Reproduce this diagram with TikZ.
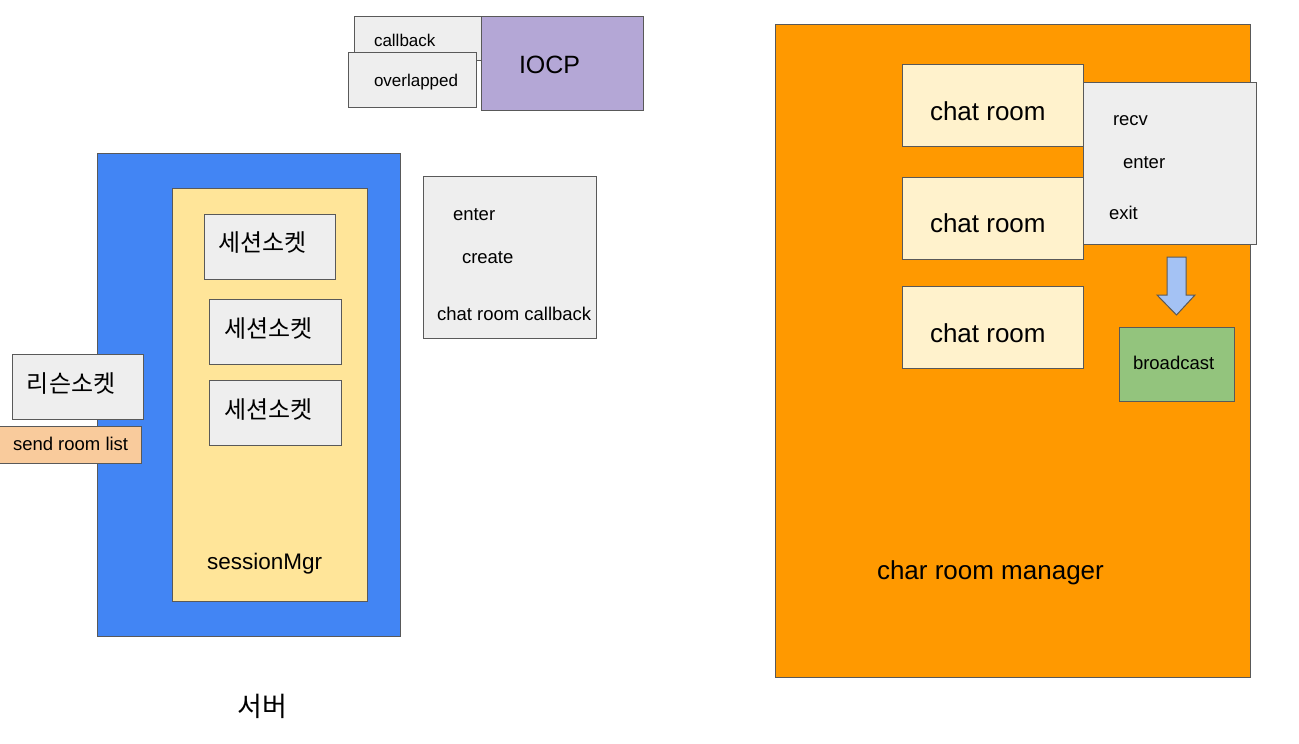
\documentclass[tikz,border=0pt]{standalone}
\usepackage{fontspec}
\setmainfont{Liberation Sans}
\newfontfamily\krfont{Noto Sans CJK KR}
\usetikzlibrary{shapes.arrows}
\definecolor{bordc}{HTML}{595959}
\definecolor{greyf}{HTML}{EEEEEE}
\definecolor{purplef}{HTML}{B4A7D6}
\definecolor{bluef}{HTML}{4285F4}
\definecolor{yellowf}{HTML}{FFE599}
\definecolor{peachf}{HTML}{F9CB9C}
\definecolor{orangef}{HTML}{FF9900}
\definecolor{creamf}{HTML}{FFF2CC}
\definecolor{lbluef}{HTML}{A4C2F4}
\definecolor{greenf}{HTML}{93C47D}
\newcommand{\fsz}[1]{\fontsize{#1}{#1}\selectfont}
\begin{document}
\begin{tikzpicture}[x=1pt,y={(0,-1pt)},
  boxst/.style={draw=bordc,line width=1pt,inner sep=0pt,outer sep=0pt},
  lbl/.style={inner sep=0pt,outer sep=0pt,anchor=base west,text=black},
  krl/.style={inner sep=0pt,outer sep=0pt,anchor=west,text=black,font=\krfont\fsz{24}}]
\useasboundingbox (0,0) rectangle (1299,744);
% IOCP group
\path[boxst,fill=greyf] (354,16) rectangle (481,60);
\node[lbl,font=\fsz{17}] (cbt) at (374,46) {callback};
\path[boxst,fill=greyf] (348,52) rectangle (476,107);
\node[lbl,font=\fsz{17}] (ovt) at (374,86) {overlapped};
\path[boxst,fill=purplef] (481,16) rectangle (643,110);
\node[lbl,font=\fsz{25}] (iocpt) at (519,73) {IOCP};
% server
\path[boxst,fill=bluef] (97,153) rectangle (400,636);
\path[boxst,fill=yellowf] (172,188) rectangle (367,601);
\path[boxst,fill=greyf] (204,214) rectangle (335,279);
\node[krl] (s1) at (218,243) {세션소켓};
\path[boxst,fill=greyf] (209,299) rectangle (341,364);
\node[krl] (s2) at (224,329) {세션소켓};
\path[boxst,fill=greyf] (209,380) rectangle (341,445);
\node[krl] (s3) at (224,410) {세션소켓};
\node[lbl,font=\fsz{22.5}] (smgr) at (207,569) {sessionMgr};
\path[boxst,fill=greyf] (12,354) rectangle (143,419);
\node[krl] (ls) at (27,384) {리슨소켓};
\path[boxst,fill=peachf] (-1,426) rectangle (141,463);
\node[lbl,font=\fsz{18.5}] (srl) at (13,450) {send room list};
\node[inner sep=0pt,font=\krfont\fsz{27}] (server) at (262,706) {서버};
% callback list
\path[boxst,fill=greyf] (423,176) rectangle (596,338);
\node[lbl,font=\fsz{18.5}] (ent1) at (453,220) {enter};
\node[lbl,font=\fsz{18.5}] (crt) at (462,263) {create};
\node[lbl,font=\fsz{18.5}] (crcb) at (437,320) {chat room callback};
% chat room manager
\path[boxst,fill=orangef] (775,24) rectangle (1250,677);
\path[boxst,fill=creamf] (902,64) rectangle (1083,146);
\node[lbl,font=\fsz{26}] (cr1) at (930,120) {chat room};
\path[boxst,fill=creamf] (902,177) rectangle (1083,259);
\node[lbl,font=\fsz{26}] (cr2) at (930,232) {chat room};
\path[boxst,fill=creamf] (902,286) rectangle (1083,368);
\node[lbl,font=\fsz{26}] (cr3) at (930,342) {chat room};
\path[boxst,fill=greyf] (1083,82) rectangle (1256,244);
\node[lbl,font=\fsz{18.5}] (recv) at (1113,125) {recv};
\node[lbl,font=\fsz{18.5}] (ent2) at (1123,168) {enter};
\node[lbl,font=\fsz{18.5}] (exit) at (1109,219) {exit};
\path[boxst,fill=lbluef] (1167,257) -- (1186,257) -- (1186,295) -- (1195,295)
  -- (1176.5,315) -- (1157,295) -- (1167,295) -- cycle;
\path[boxst,fill=greenf] (1119,327) rectangle (1234,401);
\node[lbl,font=\fsz{18.5}] (bc) at (1133,369) {broadcast};
\node[lbl,font=\fsz{26}] (crm) at (877,579) {char room manager};
\end{tikzpicture}
\end{document}
